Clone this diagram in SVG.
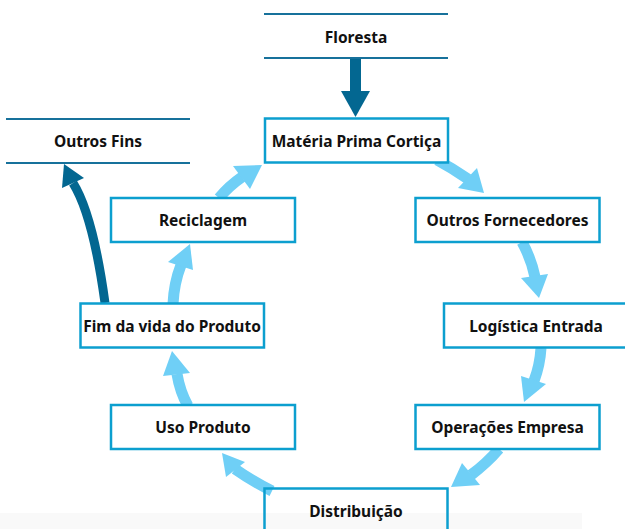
<svg xmlns="http://www.w3.org/2000/svg" width="625" height="529" viewBox="0 0 625 529">
<style>
.box{fill:#fff;stroke:#0c9fcf;stroke-width:2.5}
.hl{stroke:#17719b;stroke-width:2}
.t{font-family:"Noto Sans","Open Sans","Liberation Sans",sans-serif;font-weight:bold;font-size:15.5px;fill:#111;text-anchor:middle;dominant-baseline:central}
.ls{fill:none;stroke:#6fcff6;stroke-width:11}
.lh{fill:#6fcff6}
.dk{fill:#036791}
</style>
<rect x="0" y="513" width="582" height="16" fill="#f9f9f9"/>
<g id="connectors">
<rect class="dk" x="350" y="57" width="11" height="35"/>
<polygon class="dk" points="341,91 370,91 355.5,117"/>
<path d="M105,303 Q93,215 73,183" fill="none" stroke="#036791" stroke-width="9"/>
<polygon class="dk" points="62,188 84,178 64,164"/>
<path class="ls" d="M437,160 Q452,168 468,179"/>
<polygon class="lh" points="458,188 477,168 484,193"/>
<path class="ls" d="M522,242 Q531,258 535,277"/>
<polygon class="lh" points="521,278 548,274 539,298"/>
<path class="ls" d="M541,348 Q540,365 534,381"/>
<polygon class="lh" points="521,376 546,384 524,402"/>
<path class="ls" d="M499,449 Q487,463 471,475"/>
<polygon class="lh" points="462,463 480,485 451,487"/>
<path class="ls" d="M272,491 Q252,481 235,469"/>
<polygon class="lh" points="226,477 245,462 222,453"/>
<path class="ls" d="M188,406 Q180,392 177,374"/>
<polygon class="lh" points="163,376 190,373 172,351"/>
<path class="ls" d="M173,304 Q174,283 181,265"/>
<polygon class="lh" points="168,262 193,270 190,244"/>
<path class="ls" d="M219,198 Q229,186 242,177"/>
<polygon class="lh" points="233,166 250,189 262,165"/>
</g>
<g id="floresta">
<line class="hl" x1="264" y1="14" x2="448" y2="14"/>
<line class="hl" x1="264" y1="58" x2="448" y2="58"/>
<text class="t" x="356" y="37">Floresta</text>
</g>
<g id="outros-fins">
<line class="hl" x1="6" y1="119" x2="190" y2="119"/>
<line class="hl" x1="6" y1="163" x2="190" y2="163"/>
<text class="t" x="98" y="141">Outros Fins</text>
</g>
<g id="materia">
<rect class="box" x="265" y="118.5" width="183" height="44"/>
<text class="t" x="356.5" y="140.5">Matéria Prima Cortiça</text>
</g>
<g id="outros-fornecedores">
<rect class="box" x="415.5" y="198" width="184" height="44"/>
<text class="t" x="507.5" y="220">Outros Fornecedores</text>
</g>
<g id="logistica">
<rect class="box" x="444" y="303.5" width="184" height="44"/>
<text class="t" x="536" y="325.5">Logística Entrada</text>
</g>
<g id="operacoes">
<rect class="box" x="415.5" y="405" width="184" height="44"/>
<text class="t" x="507.5" y="427">Operações Empresa</text>
</g>
<g id="distribuicao">
<rect class="box" x="264.5" y="488.5" width="183" height="50" fill-opacity="0"/>
<text class="t" x="356" y="511">Distribuição</text>
</g>
<g id="uso-produto">
<rect class="box" x="111" y="405" width="184" height="44"/>
<text class="t" x="203" y="427">Uso Produto</text>
</g>
<g id="fim-vida">
<rect class="box" x="80.5" y="303.5" width="183.5" height="44"/>
<text class="t" x="172" y="325.5">Fim da vida do Produto</text>
</g>
<g id="reciclagem">
<rect class="box" x="111" y="198" width="184" height="44"/>
<text class="t" x="203" y="220">Reciclagem</text>
</g>
</svg>
